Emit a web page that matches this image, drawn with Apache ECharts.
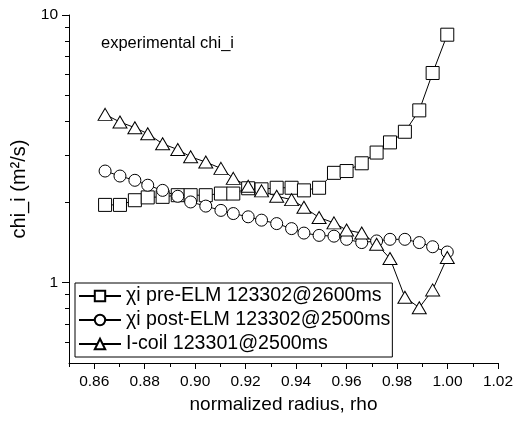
<!DOCTYPE html>
<html><head><meta charset="utf-8">
<script src="https://cdn.jsdelivr.net/npm/echarts@6/dist/echarts.min.js"></script>
<style>html,body{margin:0;padding:0;background:#fff}#c{width:517px;height:426px}</style>
</head><body><div id="c"></div>
<script>
const rho = [0.8643,0.8702,0.8761,0.8812,0.8871,0.8931,0.8982,0.9042,0.9102,0.9151,0.9210,0.9263,0.9323,0.9382,0.9431,0.9491,0.9550,0.9600,0.9660,0.9719,0.9772,0.9831,0.9888,0.9941,0.9999];
const chiPre = [1.95,1.95,2.03,2.08,2.09,2.12,2.12,2.12,2.15,2.15,2.25,2.23,2.26,2.26,2.21,2.26,2.57,2.61,2.79,3.06,3.34,3.66,4.40,6.07,8.44];
const chiPost = [2.61,2.50,2.41,2.31,2.21,2.10,2.00,1.93,1.86,1.81,1.76,1.71,1.66,1.59,1.53,1.50,1.49,1.45,1.41,1.43,1.45,1.45,1.41,1.36,1.30];
const chiIcoil = [4.25,3.98,3.79,3.60,3.30,3.14,2.95,2.82,2.67,2.45,2.29,2.20,2.10,2.04,1.91,1.75,1.67,1.57,1.53,1.39,1.23,0.881,0.805,0.938,1.24];
const seriesNames = ['χi pre-ELM 123302@2600ms','χi post-ELM 123302@2500ms','I-coil 123301@2500ms'];
const xMajorTicks = [0.86,0.88,0.90,0.92,0.94,0.96,0.98,1.00,1.02];
const xMinorTicks = [0.85,0.87,0.89,0.91,0.93,0.95,0.97,0.99,1.01];
const yMajorTicks = [1,10];
const yMinorTicks = [0.6,0.7,0.8,0.9,2,3,4,5,6,7,8,9];
const titleText = 'experimental chi_i';
const xName = 'normalized radius, rho';
const yName = 'chi_i (m²/s)';

const FF = "'Liberation Sans', Arial, Helvetica, sans-serif";
const chart = echarts.init(document.getElementById('c'));
function pairs(ys){ return rho.map((x,i)=>[x, ys[i]]); }
const black = '#000';
function mkSeries(name, ys, symbol, size){
  return {
    name, type:'line', data: pairs(ys), symbol, symbolSize: size, showAllSymbol: true,
    itemStyle:{color:'#fff', borderColor:black, borderWidth:1},
    lineStyle:{color:black, width:1},
    emphasis:{disabled:true}, animation:false
  };
}
chart.setOption({
  animation:false,
  textStyle:{fontFamily:FF},
  title:{text:titleText, left:101, top:35, padding:0,
    textStyle:{fontSize:16.5, fontWeight:'normal', color:black, fontFamily:FF}},
  grid:{left:69, right:19, top:15, bottom:63, outerBoundsMode:'none'},
  legend:{
    left:75, top:283, orient:'vertical', padding:[1,2,1,3], itemGap:0,
    itemWidth:42, itemHeight:13, borderColor:black, borderWidth:1, borderRadius:0,
    backgroundColor:'#fff',
    textStyle:{fontSize:19.6, lineHeight:24, color:black, fontFamily:FF},
    data: seriesNames
  },
  xAxis:[{
    type:'value', min:0.85, max:1.02, position:'bottom',
    name:xName, nameLocation:'middle', nameGap:27,
    nameTextStyle:{fontSize:19, color:black, fontFamily:FF},
    axisLine:{show:true, lineStyle:{color:black, width:1}},
    axisTick:{show:true, customValues:xMajorTicks, length:6, lineStyle:{color:black}},
    axisLabel:{customValues:xMajorTicks, margin:11, fontSize:15.5, color:black, fontFamily:FF,
      formatter:v=>v.toFixed(2)},
    splitLine:{show:false}
  },{
    type:'value', min:0.85, max:1.02, position:'bottom',
    axisLine:{show:false},
    axisTick:{show:true, customValues:xMinorTicks, length:4, lineStyle:{color:black}},
    axisLabel:{show:false}, splitLine:{show:false}
  }],
  yAxis:[{
    type:'log', logBase:10, min:0.5, max:10, position:'left',
    name:yName, nameLocation:'middle', nameGap:37,
    nameTextStyle:{fontSize:20, color:black, fontFamily:FF},
    axisLine:{show:true, lineStyle:{color:black, width:1}},
    axisTick:{show:true, customValues:yMajorTicks, length:7, lineStyle:{color:black}},
    axisLabel:{customValues:yMajorTicks, margin:11, fontSize:15.5, color:black, fontFamily:FF,
      formatter:v=>String(v)},
    splitLine:{show:false}
  },{
    type:'log', logBase:10, min:0.5, max:10, position:'left',
    axisLine:{show:false},
    axisTick:{show:true, customValues:yMinorTicks, length:4, lineStyle:{color:black}},
    axisLabel:{show:false}, splitLine:{show:false}
  }],
  series:[
    mkSeries(seriesNames[0], chiPre, 'rect', 13),
    mkSeries(seriesNames[1], chiPost, 'circle', 12),
    mkSeries(seriesNames[2], chiIcoil, 'triangle', [14,12])
  ]
});
</script></body></html>
